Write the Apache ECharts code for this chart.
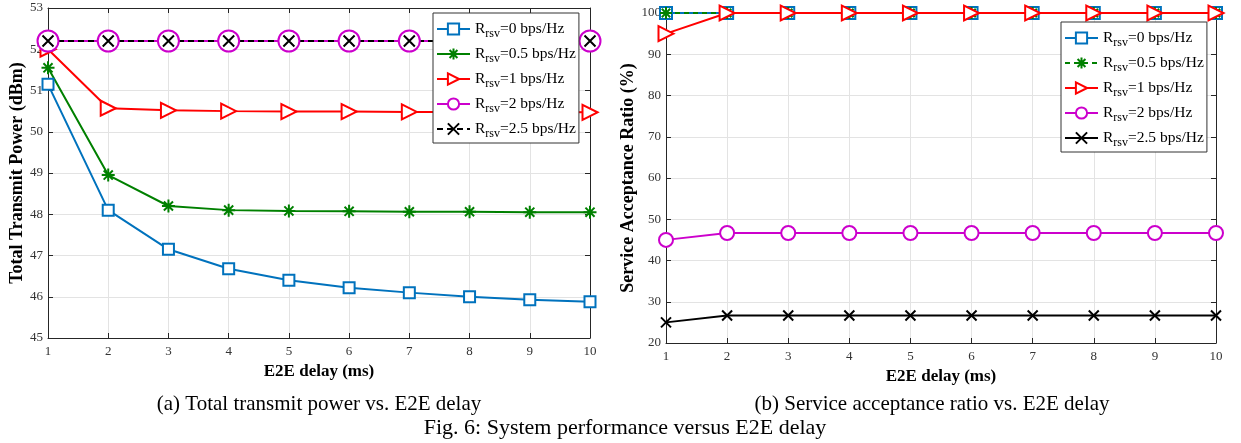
<!DOCTYPE html>
<html><head><meta charset="utf-8">
<script src="https://cdn.jsdelivr.net/npm/echarts@6/dist/echarts.min.js"></script>
<style>html,body{margin:0;padding:0;background:#fff}#c{width:1241px;height:443px}</style>
</head><body><div id="c"></div>
<script>
const delays = [1,2,3,4,5,6,7,8,9,10];
const legendLabels = ['0','0.5','1','2','2.5'];
// (a) Total transmit power (dBm)
const powR0   = [51.15, 48.10, 47.15, 46.68, 46.40, 46.22, 46.10, 46.00, 45.93, 45.88];
const powR05  = [51.55, 48.95, 48.20, 48.10, 48.08, 48.07, 48.06, 48.06, 48.05, 48.05];
const powR1   = [52.00, 50.57, 50.52, 50.50, 50.49, 50.49, 50.48, 50.48, 50.48, 50.47];
const powR2   = [52.20, 52.20, 52.20, 52.20, 52.20, 52.20, 52.20, 52.20, 52.20, 52.20];
const powR25  = [52.20, 52.20, 52.20, 52.20, 52.20, 52.20, 52.20, 52.20, 52.20, 52.20];
// (b) Service acceptance ratio (%)
const accR0   = [100, 100, 100, 100, 100, 100, 100, 100, 100, 100];
const accR05  = [100, 100, 100, 100, 100, 100, 100, 100, 100, 100];
const accR1   = [95, 100, 100, 100, 100, 100, 100, 100, 100, 100];
const accR2   = [45, 46.67, 46.67, 46.67, 46.67, 46.67, 46.67, 46.67, 46.67, 46.67];
const accR25  = [25, 26.67, 26.67, 26.67, 26.67, 26.67, 26.67, 26.67, 26.67, 26.67];

const FONT = '"Liberation Serif","DejaVu Serif",serif';
const AX = '#262626';
const GRIDC = '#e3e3e3';
const STAR = 'path://M0,-10L0,10M-10,0L10,0M-7,-7L7,7M-7,7L7,-7';
const CROSS = 'path://M-10,-10L10,10M-10,10L10,-10';
const pair = (ys) => delays.map((x,i)=>[x, ys[i]]);

const styles = [
  {color:'#0072BD', symbol:'emptyRect'},
  {color:'#008000', symbol:STAR},
  {color:'#FF0000', symbol:'emptyTriangle', rotate:-90},
  {color:'#CC00CC', symbol:'emptyCircle'},
  {color:'#000000', symbol:CROSS}
];
const leftSizes = [11, 13, 15, 21, 11];
const rightSizes = [12, 12, 15, 14, 10];

function mkSeries(prefix, datasets, sizes, gridIdx, dashed) {
  return datasets.map((d, k) => {
    const st = styles[k];
    return {
      name: prefix + k, type: 'line', xAxisIndex: gridIdx*2, yAxisIndex: gridIdx*2,
      data: pair(d), symbol: st.symbol, symbolSize: sizes[k], symbolRotate: st.rotate || 0,
      clip: false, showAllSymbol: true, animation: false,
      lineStyle: {color: st.color, width: 2, type: dashed[k] || 'solid'},
      itemStyle: {color: st.color, borderColor: st.color, borderWidth: 2}
    };
  });
}

function axesFor(gridIdx, min, max, interval, gap, ylabel) {
  const xa = [
    {type:'value', gridIndex:gridIdx, min:1, max:10, interval:1, position:'bottom',
     name:'E2E delay (ms)', nameLocation:'middle', nameGap:25,
     nameTextStyle:{fontFamily:FONT, fontWeight:'bold', fontSize:17, color:'#000'},
     axisLine:{show:true, lineStyle:{color:AX}}, axisTick:{inside:true, length:5, lineStyle:{color:AX}},
     axisLabel:{fontFamily:FONT, fontSize:13, color:'#333', margin:7},
     splitLine:{show:true, lineStyle:{color:GRIDC}}},
    {type:'value', gridIndex:gridIdx, min:1, max:10, interval:1, position:'top',
     axisLine:{show:true, onZero:false, lineStyle:{color:AX}}, axisTick:{inside:true, length:5, lineStyle:{color:AX}},
     axisLabel:{show:false}, splitLine:{show:false}}
  ];
  const ya = [
    {type:'value', gridIndex:gridIdx, min:min, max:max, interval:interval, position:'left',
     name:ylabel, nameLocation:'middle', nameGap:gap,
     nameTextStyle:{fontFamily:FONT, fontWeight:'bold', fontSize:18, color:'#000'},
     axisLine:{show:true, onZero:false, lineStyle:{color:AX}}, axisTick:{inside:true, length:5, lineStyle:{color:AX}},
     axisLabel:{fontFamily:FONT, fontSize:13, color:'#333', margin:5},
     splitLine:{show:true, lineStyle:{color:GRIDC}}},
    {type:'value', gridIndex:gridIdx, min:min, max:max, interval:interval, position:'right',
     axisLine:{show:true, onZero:false, lineStyle:{color:AX}}, axisTick:{inside:true, length:5, lineStyle:{color:AX}},
     axisLabel:{show:false}, splitLine:{show:false}}
  ];
  return {xa, ya};
}

const A = axesFor(0, 45, 53, 1, 22, 'Total Transmit Power (dBm)');
const B = axesFor(1, 20, 100, 10, 21, 'Service Acceptance Ratio (%)');

const legendText = {fontFamily:FONT, fontSize:15.5, color:'#000',
  rich:{s:{fontFamily:FONT, fontSize:12, color:'#000', padding:[10,0,0,0]}}};
function legendFmt(name){ const k = +name.slice(1); return 'R{s|rsv}=' + legendLabels[k] + ' bps/Hz'; }

const chart = echarts.init(document.getElementById('c'), null, {renderer:'canvas'});
chart.setOption({
  backgroundColor:'#fff',
  animation:false,
  grid:[
    {left:48, right:651, top:8, bottom:105},
    {left:666, right:25, top:13, bottom:100}
  ],
  xAxis: A.xa.concat(B.xa),
  yAxis: A.ya.concat(B.ya),
  legend:[
    {data:['L0','L1','L2','L3','L4'], orient:'vertical', left:433, top:13, itemGap:6,
     itemWidth:33, itemHeight:14, backgroundColor:'#fff', borderColor:'#333', borderWidth:1,
     padding:[8,3,3,3], formatter:legendFmt, textStyle:legendText, selectedMode:false},
    {data:['R0','R1','R2','R3','R4'], orient:'vertical', left:1061, top:22, itemGap:6,
     itemWidth:33, itemHeight:14, backgroundColor:'#fff', borderColor:'#333', borderWidth:1,
     padding:[8,3,3,3], formatter:legendFmt, textStyle:legendText, selectedMode:false}
  ],
  title:[
    {text:'(a) Total transmit power vs. E2E delay', left:314, top:389, textAlign:'center',
     textStyle:{fontFamily:FONT, fontSize:21, fontWeight:'normal', color:'#000'}},
    {text:'(b) Service acceptance ratio vs. E2E delay', left:927, top:389, textAlign:'center',
     textStyle:{fontFamily:FONT, fontSize:21, fontWeight:'normal', color:'#000'}},
    {text:'Fig. 6: System performance versus E2E delay', left:620, top:412, textAlign:'center',
     textStyle:{fontFamily:FONT, fontSize:22, fontWeight:'normal', color:'#000'}}
  ],
  series: mkSeries('L', [powR0, powR05, powR1, powR2, powR25], leftSizes, 0, ['solid','solid','solid','solid',[6,4]])
    .concat(mkSeries('R', [accR0, accR05, accR1, accR2, accR25], rightSizes, 1, ['solid',[5,4],'solid','solid','solid']))
});
</script></body></html>
